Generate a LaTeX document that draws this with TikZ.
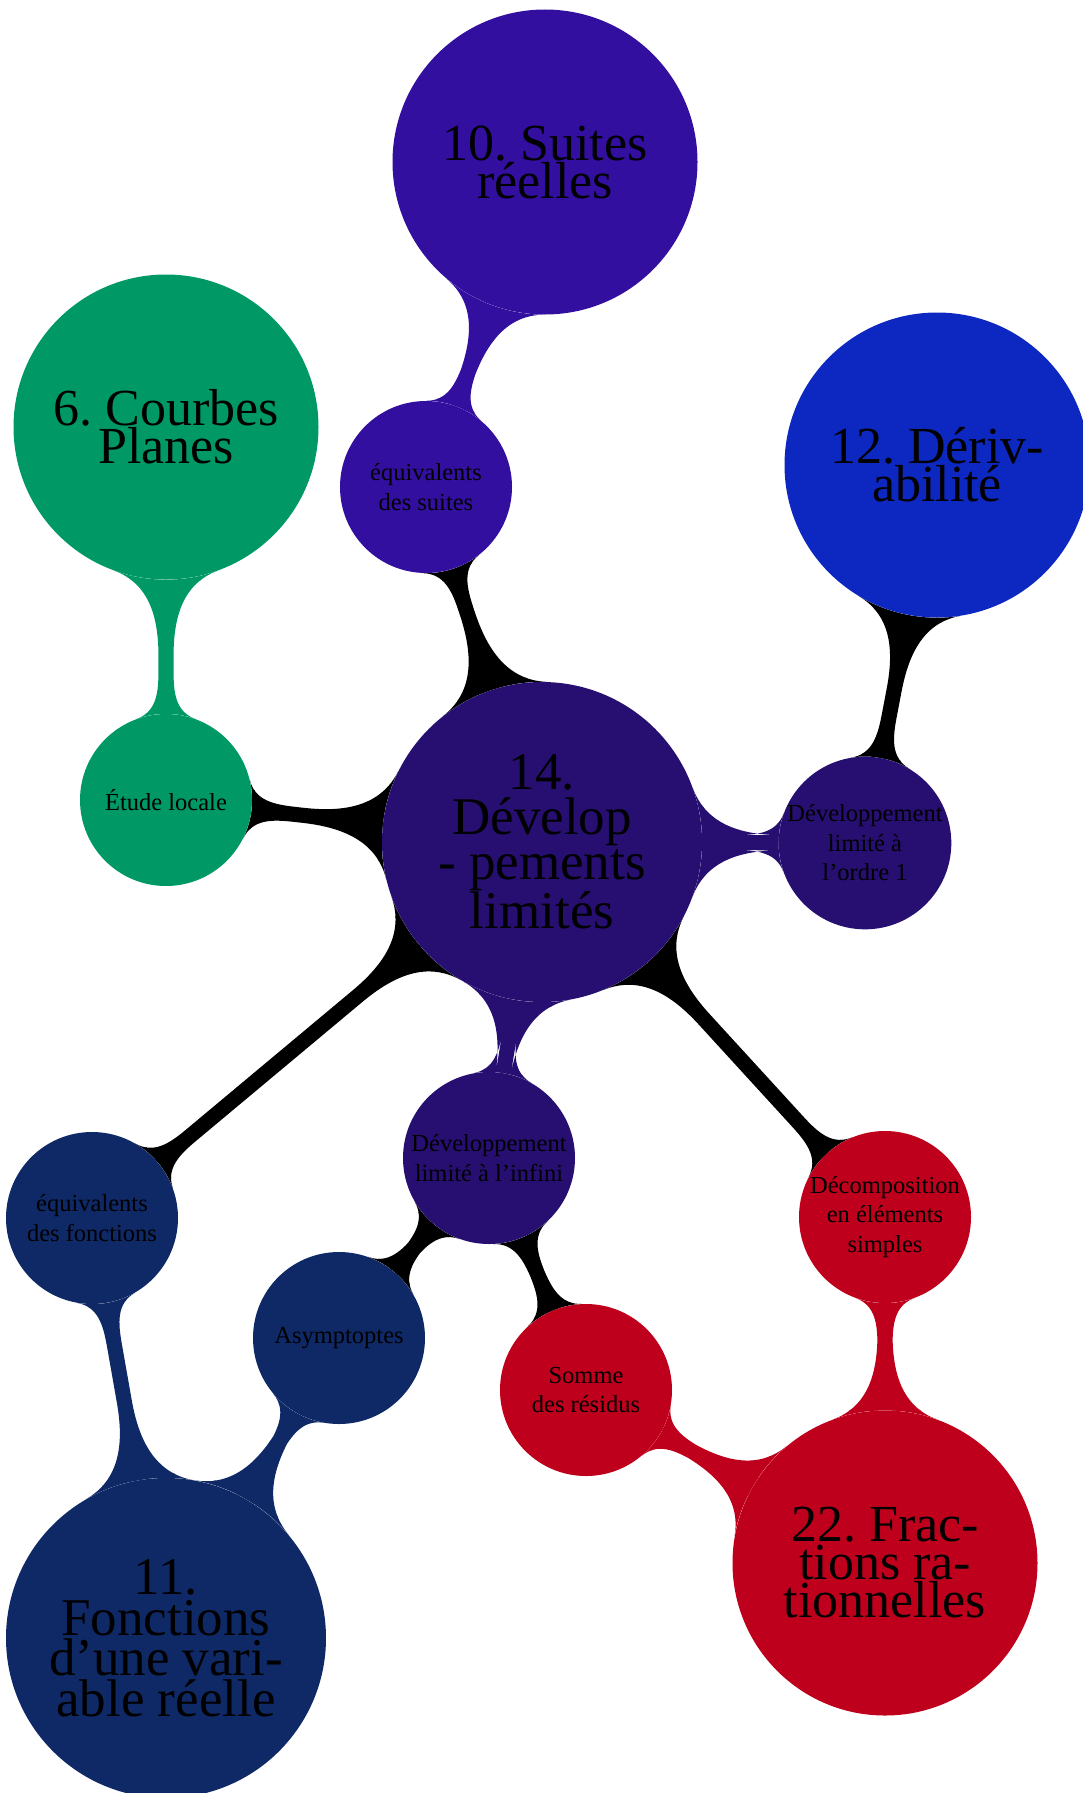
\documentclass[tikz,border=0pt]{standalone}
\usepackage{fontspec}
\setmainfont{Liberation Serif}
\usetikzlibrary{mindmap,backgrounds}
\frenchspacing
\definecolor{cCenter}{RGB}{38,15,112}
\definecolor{cSuites}{RGB}{51,15,160}
\definecolor{cDeriv}{RGB}{13,40,192}
\definecolor{cCourbes}{RGB}{0,153,102}
\definecolor{cFonct}{RGB}{15,40,102}
\definecolor{cFrac}{RGB}{191,0,28}
\tikzset{
  bubble/.style={circle, inner sep=0pt, align=center, text=black, draw=none},
  bigbubble/.style={bubble, minimum size=305pt, font=\fontsize{52}{38}\selectfont},
  rootbubble/.style={bubble, minimum size=320pt, font=\fontsize{53}{45}\selectfont},
  fonctbubble/.style={bubble, minimum size=320pt, font=\fontsize{53}{40.5}\selectfont},
  smallbubble/.style={bubble, minimum size=172pt, font=\fontsize{24.5}{29.5}\selectfont},
  linkbar/.style={circle connection bar switch color=from (#1) to (#1)},
}
\begin{document}
\begin{tikzpicture}[x=1pt,y=-1pt]
\useasboundingbox (0,0) rectangle (1082,1793);
\node[rootbubble, fill=cCenter] (root) at (542,842) {14.\\Dévelop\\- pements\\limités};
\node[bigbubble, fill=cSuites] (suites) at (545,162) {10. Suites\\réelles};
\node[smallbubble, fill=cSuites] (eqsuites) at (426,487) {équivalents\\des suites};
\node[bigbubble, fill=cCourbes] (courbes) at (166,427) {6. Courbes\\Planes};
\node[smallbubble, fill=cCourbes] (etude) at (166,800) {Étude locale};
\node[bigbubble, fill=cDeriv] (deriv) at (937,465) {12. Dériv-\\abilité};
\node[smallbubble, fill=cCenter] (dlun) at (865,843) {Développement\\limité à\\l’ordre 1};
\node[smallbubble, fill=cCenter] (dlinf) at (489,1158) {Développement\\limité à l’infini};
\node[smallbubble, fill=cFonct] (eqfonc) at (92,1218) {équivalents\\des fonctions};
\node[smallbubble, fill=cFonct] (asym) at (339,1338) {Asymptoptes};
\node[fonctbubble, fill=cFonct] (fonct) at (166,1638) {11.\\Fonctions\\d’une vari-\\able réelle};
\node[smallbubble, fill=cFrac] (somme) at (586,1390) {Somme\\des résidus};
\node[smallbubble, fill=cFrac] (decomp) at (885,1217) {Décomposition\\en éléments\\simples};
\node[bigbubble, fill=cFrac] (frac) at (885,1563) {22. Frac-\\tions ra-\\tionnelles};
\begin{scope}[on background layer]
\path (root) to[linkbar=black] (eqsuites);
\path (eqsuites) to[linkbar=cSuites] (suites);
\path (root) to[linkbar=black] (etude);
\path (etude) to[linkbar=cCourbes] (courbes);
\path (root) to[linkbar=cCenter] (dlun);
\path (dlun) to[linkbar=black] (deriv);
\path (root) to[linkbar=cCenter] (dlinf);
\path (root) to[linkbar=black] (eqfonc);
\path (root) to[linkbar=black] (decomp);
\path (dlinf) to[linkbar=black] (asym);
\path (dlinf) to[linkbar=black] (somme);
\path (eqfonc) to[linkbar=cFonct] (fonct);
\path (asym) to[linkbar=cFonct] (fonct);
\path (somme) to[linkbar=cFrac] (frac);
\path (decomp) to[linkbar=cFrac] (frac);
\end{scope}
\end{tikzpicture}
\end{document}
